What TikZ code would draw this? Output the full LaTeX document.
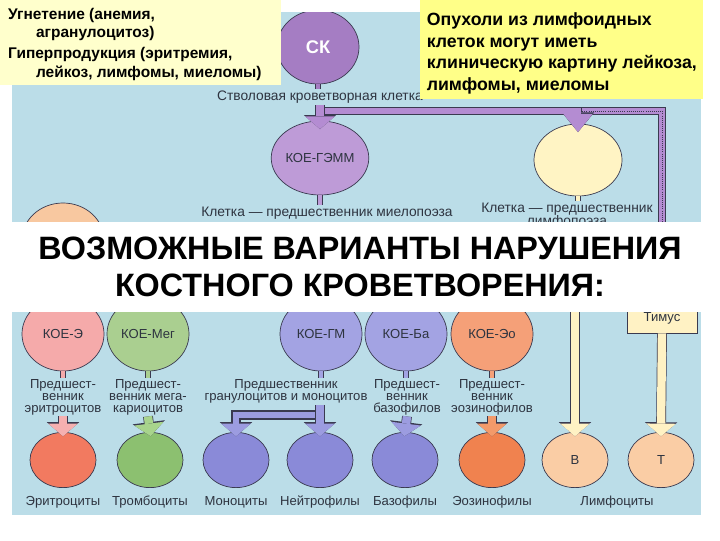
\documentclass[tikz,border=0pt]{standalone}
\usepackage{fontspec}
\setmainfont{Liberation Sans}
\usetikzlibrary{arrows.meta,positioning,shapes.geometric,calc}
\definecolor{fond}{HTML}{BBDDE8}
\definecolor{contour}{HTML}{3A3A50}
\definecolor{texte}{HTML}{2E3440}
\definecolor{jaunepale}{HTML}{FFFFCC}
\definecolor{jaunevif}{HTML}{FFFF88}
\definecolor{violet}{HTML}{A57DC3}
\definecolor{violetclair}{HTML}{BE9BD7}
\definecolor{violetfleche}{HTML}{B48CD2}
\definecolor{jaunelymphe}{HTML}{FFF4C4}
\definecolor{peche}{HTML}{FACDA5}
\definecolor{pecheclair}{HTML}{F8C8A0}
\definecolor{creme}{HTML}{FFF2C4}
\definecolor{roseclair}{HTML}{F5AAAA}
\definecolor{vertpale}{HTML}{AACF90}
\definecolor{bleuclair}{HTML}{A3A3E3}
\definecolor{orangeclair}{HTML}{F5A078}
\definecolor{rouge}{HTML}{F27A60}
\definecolor{vert}{HTML}{8CC070}
\definecolor{bleu}{HTML}{8A8AD8}
\definecolor{orange}{HTML}{F0824F}
\definecolor{rosefleche}{HTML}{F5B0B0}
\definecolor{vertfleche}{HTML}{A8D48C}
\definecolor{bleufleche}{HTML}{9C9CE0}
\definecolor{orangefleche}{HTML}{F39A6A}
\tikzset{
  cellule/.style={ellipse,draw=contour,line width=0.5pt,fill=#1,minimum width=2.05cm,
                  minimum height=1.85cm,inner sep=0pt,font=\fontsize{9.3}{10}\selectfont,text=texte},
  petite/.style={cellule=#1,minimum width=1.65cm,minimum height=1.38cm},
  legende/.style={align=center,font=\fontsize{9.3}{8.3}\selectfont,text=texte,inner sep=1pt},
  tige/.style={draw=contour,line width=0.4pt,double=#1,double distance=3pt},
  fleche/.style={line width=6pt,draw=#1,-{Triangle[width=21pt,length=9pt,line width=0pt]},
                 preaction={draw=contour,line width=7pt,-{Triangle[width=23pt,length=10pt,line width=0pt]}}},
  branche/.style={line width=4pt,draw=#1,-{Triangle[width=21pt,length=13pt,line width=0pt]},
                  preaction={draw=contour,line width=5pt,-{Triangle[width=23pt,length=14pt,line width=0pt]}}},
}

\begin{document}
\begin{tikzpicture}[x=0.025cm,y=-0.025cm]
  \useasboundingbox (0,0) rectangle (720,540);
  \fill[white] (0,0) rectangle (720,540);
  \begin{scope}
  \clip (12,12) rectangle (701,515);
  \fill[fond] (12,12) rectangle (701,515);

  % partie haute
  \node[cellule=violet] (sk) at (318,47) {\textcolor{white}{\fontsize{13}{13}\selectfont\bfseries СК}};
  \node[legende,font=\fontsize{9.8}{10}\selectfont] (sk_lbl) at (320,97) {Стволовая кроветворная клетка};
  \node[cellule=violetclair] (gemm) at (320,158) {КОЕ-ГЭММ};
  \node[legende,font=\fontsize{9.8}{10}\selectfont] (gemm_lbl) at (327,213) {Клетка — предшественник миелопоэза};
  \node[cellule=jaunelymphe,minimum width=2.2cm,minimum height=1.8cm] (lymphe) at (578,160) {};
  \node[legende,anchor=north,font=\fontsize{9.8}{9.5}\selectfont] (lymphe_lbl) at (567,201) {Клетка — предшественник\\лимфопоэза};
  \node[cellule=pecheclair] (cachee) at (63,240) {};
  \coordinate (jonction) at (322,111);
  \coordinate (entree_b) at (575,300);

  \draw[tige=violet] (sk.south) -- (sk.south |- sk_lbl.north);
  \draw[tige=violetclair] (gemm.south) -- (gemm.south |- gemm_lbl.north);
  \draw[tige=jaunelymphe] (lymphe.south) -- (lymphe.south |- lymphe_lbl.north);
  \node[cellule=bleuclair,draw=none,fill=none,minimum size=0pt] (thymus_in) at (662,300) {};
  \draw[branche=violetfleche,-] (jonction -| lymphe.north) -| (thymus_in);
  \draw[densely dotted,contour,line width=0.5pt] (jonction -| lymphe.north) -| (thymus_in);
  \draw[branche=violetfleche,shorten >=-6pt] (jonction) -| (lymphe.north);
  \draw[fleche=violetfleche,shorten >=-6pt] (sk_lbl.south) -- (gemm.north);

  % partie basse
  \node[cellule=roseclair] (koe_e) at (63,334) {КОЕ-Э};
  \node[cellule=vertpale] (koe_meg) at (148,334) {КОЕ-Мег};
  \node[cellule=bleuclair] (koe_gm) at (321,334) {КОЕ-ГМ};
  \node[cellule=bleuclair] (koe_ba) at (406,334) {КОЕ-Ба};
  \node[cellule=orangeclair] (koe_eo) at (492,334) {КОЕ-Эо};
  \node[draw=contour,line width=0.5pt,fill=creme,minimum width=1.75cm,minimum height=0.75cm,
        font=\fontsize{9.3}{10}\selectfont,text=texte] (thymus) at (662,318) {Тимус};

  \node[legende,anchor=north] (pred_e) at (63,378) {Предшест-\\венник\\эритроцитов};
  \node[legende,anchor=north] (pred_meg) at (148,378) {Предшест-\\венник мега-\\кариоцитов};
  \node[legende,anchor=north] (pred_gm) at (286,378) {Предшественник\\гранулоцитов и моноцитов};
  \node[legende,anchor=north] (pred_ba) at (407,378) {Предшест-\\венник\\базофилов};
  \node[legende,anchor=north] (pred_eo) at (492,378) {Предшест-\\венник\\эозинофилов};

  \node[petite=rouge] (erythro) at (63,460) {};
  \node[petite=vert] (thrombo) at (150,460) {};
  \node[petite=bleu] (mono) at (236,460) {};
  \node[petite=bleu] (neutro) at (320,460) {};
  \node[petite=bleu] (baso) at (405,460) {};
  \node[petite=orange] (eosino) at (492,460) {};
  \node[petite=peche] (lb) at (575,460) {В};
  \node[petite=peche] (lt) at (661,460) {Т};

  \node[legende] (n_erythro) at (63,502) {Эритроциты};
  \node[legende] (n_thrombo) at (150,502) {Тромбоциты};
  \node[legende] (n_mono) at (236,502) {Моноциты};
  \node[legende] (n_neutro) at (320,502) {Нейтрофилы};
  \node[legende] (n_baso) at (405,502) {Базофилы};
  \node[legende] (n_eosino) at (492,502) {Эозинофилы};
  \node[legende] (n_lympho) at (617,502) {Лимфоциты};

  \draw[tige=roseclair] (koe_e.south) -- (pred_e.north);
  \draw[tige=vertpale] (koe_meg.south) -- (koe_meg.south |- pred_meg.north);
  \draw[tige=bleuclair] (koe_gm.south) -- (koe_gm.south |- pred_gm.north);
  \draw[tige=bleuclair] (koe_ba.south) -- (koe_ba.south |- pred_ba.north);
  \draw[tige=orangeclair] (koe_eo.south) -- (pred_eo.north);

  \coordinate (embr) at (320,415);
  \draw[fleche=rosefleche,shorten >=-3pt] (pred_e.south) -- (erythro.north);
  \draw[fleche=vertfleche,shorten >=-3pt] (pred_meg.south) -- (thrombo.north);
  \draw[fleche=bleufleche,shorten >=-3pt,line width=4pt] (embr) -| (mono.north);
  \draw[fleche=bleufleche,shorten >=-3pt] (neutro.north |- pred_gm.south) -- (neutro.north);
  \draw[fleche=bleufleche,shorten >=-3pt] (pred_ba.south) -- (baso.north);
  \draw[fleche=orangefleche,shorten >=-3pt] (pred_eo.south) -- (eosino.north);
  \draw[fleche=creme,shorten >=-3pt] (entree_b) -- (lb.north);
  \draw[fleche=creme,shorten >=-3pt] (thymus.south) -- (lt.north);
  \end{scope}

  % bandeau du titre et encadres
  \fill[white] (0,222) rectangle (720,312);
  \node[align=center,font=\fontsize{23}{26.2}\selectfont\bfseries] (titre) at (360,267)
    {ВОЗМОЖНЫЕ ВАРИАНТЫ НАРУШЕНИЯ\\КОСТНОГО КРОВЕТВОРЕНИЯ:};
  \node[anchor=north west,fill=jaunepale,minimum width=7.025cm,minimum height=2.075cm,align=left,
        font=\fontsize{11}{13.3}\selectfont\bfseries] (hg) at (0,0)
    {\rule{0pt}{10pt}Угнетение (анемия,\\\hspace*{0.7cm}агранулоцитоз)\\[1.5pt]
     Гиперпродукция (эритремия,\\\hspace*{0.7cm}лейкоз, лимфомы, миеломы)\hspace*{0.3cm}};
  \node[anchor=north west,fill=jaunevif,minimum width=7.075cm,minimum height=2.375cm,align=left,
        font=\fontsize{12.6}{15.4}\selectfont\bfseries] (hd) at (420,0)
    {\rule{0pt}{14.5pt}Опухоли из лимфоидных\\клеток могут иметь\\клиническую картину лейкоза,\\лимфомы, миеломы};
\end{tikzpicture}
\end{document}
